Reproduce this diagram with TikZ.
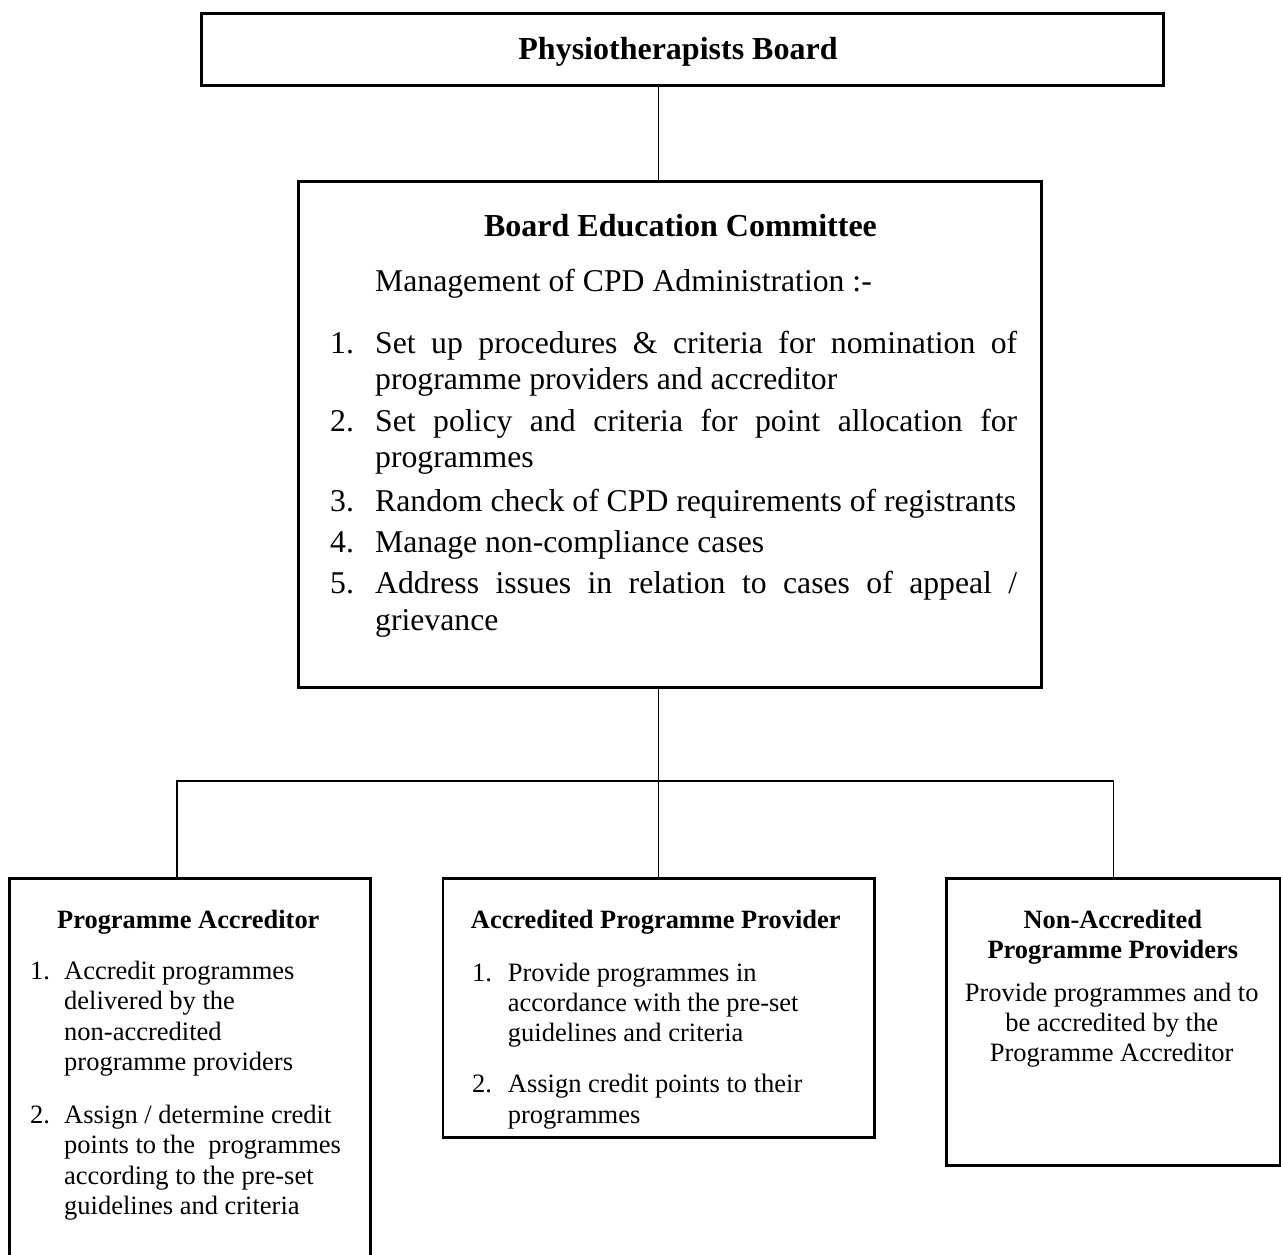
\documentclass[tikz,border=0pt]{standalone}
\usepackage{fontspec}
\setmainfont{Liberation Serif}
\begin{document}
\begin{tikzpicture}[x=1pt,y=-1pt,
  box/.style={draw, line width=2.8pt, rectangle, inner sep=0pt, anchor=north west},
  conn/.style={line width=1.3pt},
  txt/.style={inner sep=0pt, anchor=base west},
  ctxt/.style={inner sep=0pt, anchor=base},
  bigb/.style={font=\fontsize{32}{36}\selectfont\bfseries},
  bigr/.style={font=\fontsize{31.7}{36}\selectfont},
  smb/.style={font=\fontsize{26.4}{30}\selectfont\bfseries},
  smr/.style={font=\fontsize{26.5}{30}\selectfont},
]
\useasboundingbox (0,0) rectangle (1281,1254);
\clip (0,0) rectangle (1281,1254);

% boxes
\node[box, minimum width=962pt, minimum height=72pt] (pb) at (200,12) {};
\node[box, minimum width=743pt, minimum height=506pt] (bec) at (297,180) {};
\node[box, minimum width=361pt, minimum height=420pt] (pa) at (8,877) {};
\node[box, minimum width=431.5pt, minimum height=259pt] (app) at (441.5,877) {};
\node[box, minimum width=334pt, minimum height=287pt] (nap) at (945,877) {};

% connectors
\coordinate (hub) at (657,781);
\coordinate (lj) at (177,781);
\draw[conn] (pb.south -| app.north) -- (bec.north -| app.north);
\draw[conn] (bec.south -| app.north) -- (app.north);
\draw[conn] (pa.north -| lj) -- (lj) -- (hub -| nap.north) -- (nap.north);

% top box
\node[ctxt, bigb] (pbt) at (678,59) {Physiotherapists Board};

% main box
\node[ctxt, bigb] (bect) at (680.5,236.7) {Board Education Committee};
\node[txt, bigr] (mg) at (375,291.7) {Management of CPD Administration :-};
\node[txt, bigr] (n1) at (330,353) {1.};
\node[txt, bigr] (l1a) at (375,353) {\makebox[642pt][s]{Set up procedures \& criteria for nomination of}};
\node[txt, bigr] (l1b) at (375,389) {programme providers and accreditor};
\node[txt, bigr] (n2) at (330,431) {2.};
\node[txt, bigr] (l2a) at (375,431) {\makebox[642pt][s]{Set policy and criteria for point allocation for}};
\node[txt, bigr] (l2b) at (375,467.5) {programmes};
\node[txt, bigr] (n3) at (330,511) {3.};
\node[txt, bigr] (l3) at (375,511) {Random check of CPD requirements of registrants};
\node[txt, bigr] (n4) at (330,552.5) {4.};
\node[txt, bigr] (l4) at (375,552.5) {Manage non-compliance cases};
\node[txt, bigr] (n5) at (330,593.3) {5.};
\node[txt, bigr] (l5a) at (375,593.3) {\makebox[642pt][s]{Address issues in relation to cases of appeal /}};
\node[txt, bigr] (l5b) at (375,630) {grievance};

% left box
\node[ctxt, smb] (pat) at (188.3,928.3) {Programme Accreditor};
\node[txt, smr] (pn1) at (30,979.3) {1.};
\node[txt, smr] (p1a) at (64,979.3) {Accredit programmes};
\node[txt, smr] (p1b) at (64,1009.6) {delivered by the};
\node[txt, smr] (p1c) at (64,1040) {non-accredited};
\node[txt, smr] (p1d) at (64,1070.3) {programme providers};
\node[txt, smr] (pn2) at (30,1123.3) {2.};
\node[txt, smr] (p2a) at (64,1123.3) {Assign / determine credit};
\node[txt, smr] (p2b) at (64,1153.7) {points to the\ \ programmes};
\node[txt, smr] (p2c) at (64,1184.1) {according to the pre-set};
\node[txt, smr] (p2d) at (64,1214.5) {guidelines and criteria};

% middle box
\node[ctxt, smb] (appt) at (655.7,928.3) {Accredited Programme Provider};
\node[txt, smr] (an1) at (472,981.7) {1.};
\node[txt, smr] (a1a) at (507.7,981.7) {Provide programmes in};
\node[txt, smr] (a1b) at (507.7,1011.7) {accordance with the pre-set};
\node[txt, smr] (a1c) at (507.7,1041.7) {guidelines and criteria};
\node[txt, smr] (an2) at (472,1092.7) {2.};
\node[txt, smr] (a2a) at (507.7,1092.7) {Assign credit points to their};
\node[txt, smr] (a2b) at (507.7,1123) {programmes};

% right box
\node[ctxt, smb] (napt1) at (1112.8,928.3) {Non-Accredited};
\node[ctxt, smb] (napt2) at (1112.8,958.3) {Programme Providers};
\node[ctxt, smr] (nb1) at (1111.7,1001.7) {Provide programmes and to};
\node[ctxt, smr] (nb2) at (1111.7,1031.7) {be accredited by the};
\node[ctxt, smr] (nb3) at (1111.7,1061.7) {Programme Accreditor};
\end{tikzpicture}
\end{document}
